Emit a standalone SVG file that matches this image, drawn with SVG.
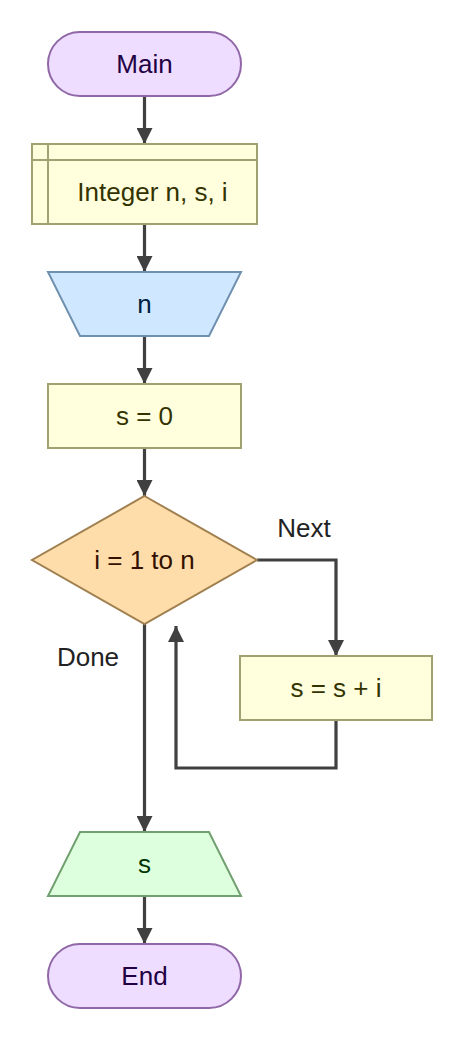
<svg xmlns="http://www.w3.org/2000/svg" width="465" height="1041" viewBox="0 0 465 1041">
<defs>
<marker id="ah" viewBox="0 0 10 10" refX="10" refY="5" markerWidth="5" markerHeight="5" orient="auto" markerUnits="strokeWidth">
<path d="M0,0 L10,5 L0,10 z" fill="#404040"/>
</marker>
<style>
text{font-family:"Liberation Sans",Arial,sans-serif;font-size:26px;text-anchor:middle;dominant-baseline:central}
.term{fill:#EEDDFF;stroke:#9068A8;stroke-width:2}
.term-t{fill:#220044}
.proc{fill:#FFFFDD;stroke:#A0A070;stroke-width:2}
.proc-t{fill:#333300}
.in{fill:#D0E8FF;stroke:#7090B0;stroke-width:2}
.in-t{fill:#002244}
.dec{fill:#FFDDAA;stroke:#A08050;stroke-width:2}
.dec-t{fill:#331100}
.out{fill:#DDFFDD;stroke:#70A070;stroke-width:2}
.out-t{fill:#003300}
.edge{fill:none;stroke:#404040;stroke-width:3.2;marker-end:url(#ah)}
.lbl{fill:#222222}
</style>
</defs>
<rect width="465" height="1041" fill="#FFFFFF"/>
<g id="connectors">
<path class="edge" d="M144.5,96 V144"/>
<path class="edge" d="M144.5,224 V272"/>
<path class="edge" d="M144.5,336 V384"/>
<path class="edge" d="M144.5,448 V496"/>
<path class="edge" d="M257,560 H336 V656"/>
<path class="edge" d="M336,720 V768 H176 V626"/>
<path class="edge" d="M144.5,624 V832"/>
<path class="edge" d="M144.5,896 V944"/>
<text class="lbl" x="304" y="528">Next</text>
<text class="lbl" x="88" y="657">Done</text>
</g>
<g id="main">
<rect class="term" x="48" y="32" width="193" height="64" rx="32"/>
<text class="term-t" x="144.5" y="64">Main</text>
</g>
<g id="declare">
<rect class="proc" x="32" y="144" width="225" height="80"/>
<line class="proc" x1="48" y1="144" x2="48" y2="224"/>
<line class="proc" x1="32" y1="160" x2="257" y2="160"/>
<text class="proc-t" x="152.5" y="192">Integer n, s, i</text>
</g>
<g id="input-n">
<polygon class="in" points="48,272 241,272 209,336 80,336"/>
<text class="in-t" x="144.5" y="304">n</text>
</g>
<g id="assign-s0">
<rect class="proc" x="48" y="384" width="193" height="64"/>
<text class="proc-t" x="144.5" y="416">s = 0</text>
</g>
<g id="loop">
<polygon class="dec" points="144.5,496 257,560 144.5,624 32,560"/>
<text class="dec-t" x="144.5" y="560">i = 1 to n</text>
</g>
<g id="assign-sum">
<rect class="proc" x="240" y="656" width="192" height="64"/>
<text class="proc-t" x="336" y="688">s = s + i</text>
</g>
<g id="output-s">
<polygon class="out" points="80,832 209,832 241,896 48,896"/>
<text class="out-t" x="144.5" y="864">s</text>
</g>
<g id="end">
<rect class="term" x="48" y="944" width="193" height="64" rx="32"/>
<text class="term-t" x="144.5" y="976">End</text>
</g>
</svg>
